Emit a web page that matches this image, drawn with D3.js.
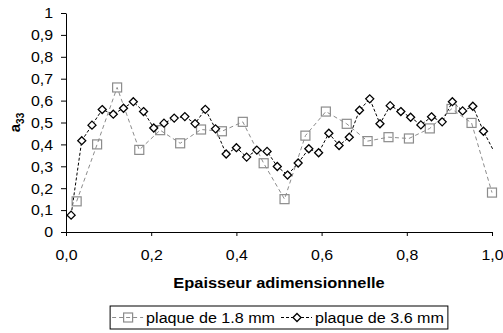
<!DOCTYPE html>
<html>
<head>
<meta charset="utf-8">
<script src="https://cdn.jsdelivr.net/npm/d3@7"></script>
<style>
  body { margin: 0; background: #fff; }
  svg text { font-family: Arial, "Liberation Sans", sans-serif; fill: #000; }
</style>
</head>
<body>
<div id="chart"></div>
<script>
// plaque de 1.8 mm (squares)
const thinX = [0.025, 0.073, 0.120, 0.172, 0.221, 0.268, 0.317, 0.366, 0.415, 0.464, 0.513,
               0.562, 0.610, 0.659, 0.708, 0.757, 0.805, 0.854, 0.905, 0.952, 1.000];
const thinY = [0.14, 0.40, 0.66, 0.375, 0.465, 0.405, 0.468, 0.46, 0.503, 0.314, 0.15,
               0.44, 0.55, 0.494, 0.415, 0.433, 0.427, 0.473, 0.562, 0.498, 0.18];

// plaque de 3.6 mm (diamonds)
const thickX = [0.012, 0.037, 0.061, 0.085, 0.111, 0.135, 0.158, 0.182, 0.206, 0.230, 0.254,
                0.279, 0.303, 0.327, 0.351, 0.376, 0.400, 0.424, 0.448, 0.472, 0.496, 0.520,
                0.545, 0.570, 0.593, 0.617, 0.641, 0.665, 0.689, 0.713, 0.737, 0.761, 0.786,
                0.809, 0.833, 0.858, 0.883, 0.907, 0.931, 0.955, 0.980, 1.004];
const thickY = [0.077, 0.417, 0.488, 0.559, 0.538, 0.565, 0.595, 0.55, 0.475, 0.497, 0.52,
                0.527, 0.495, 0.56, 0.471, 0.356, 0.385, 0.342, 0.374, 0.368, 0.299, 0.26,
                0.315, 0.38, 0.362, 0.451, 0.395, 0.433, 0.556, 0.608, 0.494, 0.577, 0.55,
                0.524, 0.489, 0.526, 0.503, 0.595, 0.553, 0.574, 0.46, 0.37];

const seriesNames = ["plaque de 1.8 mm", "plaque de 3.6 mm"];
const yTicks = [0, 0.1, 0.2, 0.3, 0.4, 0.5, 0.6, 0.7, 0.8, 0.9, 1];
const yTickLabels = ["0", "0,1", "0,2", "0,3", "0,4", "0,5", "0,6", "0,7", "0,8", "0,9", "1"];
const xTicks = [0, 0.2, 0.4, 0.6, 0.8, 1];
const xTickLabels = ["0,0", "0,2", "0,4", "0,6", "0,8", "1,0"];

let width = 503;
let height = 333;
let margin = {top: 13, right: 11, bottom: 101, left: 66};

const svg = d3.select("#chart").append("svg")
    .attr("width", width)
    .attr("height", height);

let x = d3.scaleLinear().domain([0, 1]).range([margin.left, width - margin.right]);
let y = d3.scaleLinear().domain([0, 1]).range([height - margin.bottom, margin.top]);

// the original chart's text is a bit wider than Arial, stretch it
function stretch(sel, k) {
  let total = 0;
  sel.each(function() {
    let w = this.getComputedTextLength() * k;
    d3.select(this).attr("textLength", w).attr("lengthAdjust", "spacingAndGlyphs");
    total += w;
  });
  return total;
}

svg.append("clipPath").attr("id", "plotclip")
  .append("rect")
    .attr("x", x(0)).attr("y", y(1) - 6)
    .attr("width", x(1) - x(0) + 1).attr("height", y(0) - y(1) + 6);

// axes
let yAxis = svg.append("g")
    .attr("transform", `translate(${x(0)},0)`)
    .call(d3.axisLeft(y).tickValues(yTicks).tickFormat((d, i) => yTickLabels[i])
        .tickSize(5).tickSizeOuter(0).tickPadding(8));
let xAxis = svg.append("g")
    .attr("transform", `translate(0,${y(0)})`)
    .call(d3.axisBottom(x).tickValues(xTicks).tickFormat((d, i) => xTickLabels[i])
        .tickSize(4).tickSizeOuter(0).tickPadding(13));
[yAxis, xAxis].forEach(a => {
  a.selectAll("text").attr("font-size", 15).attr("font-family", "Arial, 'Liberation Sans', sans-serif");
  a.selectAll("line, path").attr("stroke", "#000");
  stretch(a.selectAll("text"), 1.06);
});

// axis titles
let xTitle = svg.append("text")
    .attr("x", (x(0) + x(1)) / 2)
    .attr("y", 288)
    .attr("text-anchor", "middle")
    .attr("font-size", 14.5)
    .attr("font-weight", "bold")
    .text("Epaisseur adimensionnelle");
stretch(xTitle, 1.13);

let yTitle = svg.append("text")
    .attr("transform", `translate(20,${(y(0) + y(1)) / 2}) rotate(-90)`)
    .attr("text-anchor", "middle")
    .attr("font-size", 15)
    .attr("font-weight", "bold");
yTitle.append("tspan").text("a");
yTitle.append("tspan").attr("font-size", 10).attr("dy", 4).text("33");

let series = [
  {name: seriesNames[0], xs: thinX, ys: thinY, color: "#8c8c8c", dash: "4,3", shape: "square"},
  {name: seriesNames[1], xs: thickX, ys: thickY, color: "#000", dash: "3,2", shape: "diamond"}
];

function drawMarker(g, shape, color) {
  if (shape === "square") {
    g.append("rect")
        .attr("x", -4.5).attr("y", -4.5).attr("width", 9).attr("height", 9)
        .attr("fill", "none").attr("stroke", color).attr("stroke-width", 1.2);
  } else {
    g.append("path")
        .attr("d", "M0,-4L4,0L0,4L-4,0Z")
        .attr("fill", "#fff").attr("stroke", color).attr("stroke-width", 1.3);
  }
}

let line = d3.line()
    .x(d => x(d[0]))
    .y(d => y(d[1]));

let plot = svg.append("g").attr("clip-path", "url(#plotclip)");

series.forEach(s => {
  let pts = s.xs.map((v, i) => [v, s.ys[i]]);
  plot.append("path")
      .datum(pts)
      .attr("d", line)
      .attr("fill", "none")
      .attr("stroke", s.color)
      .attr("stroke-width", 1)
      .attr("stroke-dasharray", s.dash);
  // points outside the axis range get no marker
  svg.selectAll(".m-" + s.shape)
      .data(pts.filter(d => d[0] <= 1))
      .join("g")
      .attr("class", "m-" + s.shape)
      .attr("transform", d => `translate(${x(d[0])},${y(d[1])})`)
      .each(function() { drawMarker(d3.select(this), s.shape, s.color); });
});

// legend
let legend = svg.append("g");
let box = legend.append("rect")
    .attr("fill", "#fff").attr("stroke", "#000").attr("stroke-width", 1);
let lx = 0;
series.forEach((s, i) => {
  let item = legend.append("g").attr("transform", `translate(${lx},0)`);
  item.append("line")
      .attr("x1", 2).attr("x2", 33).attr("y1", 0).attr("y2", 0)
      .attr("stroke", s.color).attr("stroke-dasharray", s.dash);
  let m = item.append("g").attr("transform", "translate(18,0)");
  drawMarker(m, s.shape, s.color);
  let t = item.append("text")
      .attr("x", 36).attr("y", 5)
      .attr("font-size", 14)
      .text(s.name);
  let tw = stretch(t, 1.15);
  lx += 36 + tw + 4;
});
let legendW = lx;
let legendX = (x(0) + x(1)) / 2 - legendW / 2;
legend.attr("transform", `translate(${legendX},317.5)`);
box.attr("x", 0).attr("y", -11.5).attr("width", legendW).attr("height", 23);
</script>
</body>
</html>
